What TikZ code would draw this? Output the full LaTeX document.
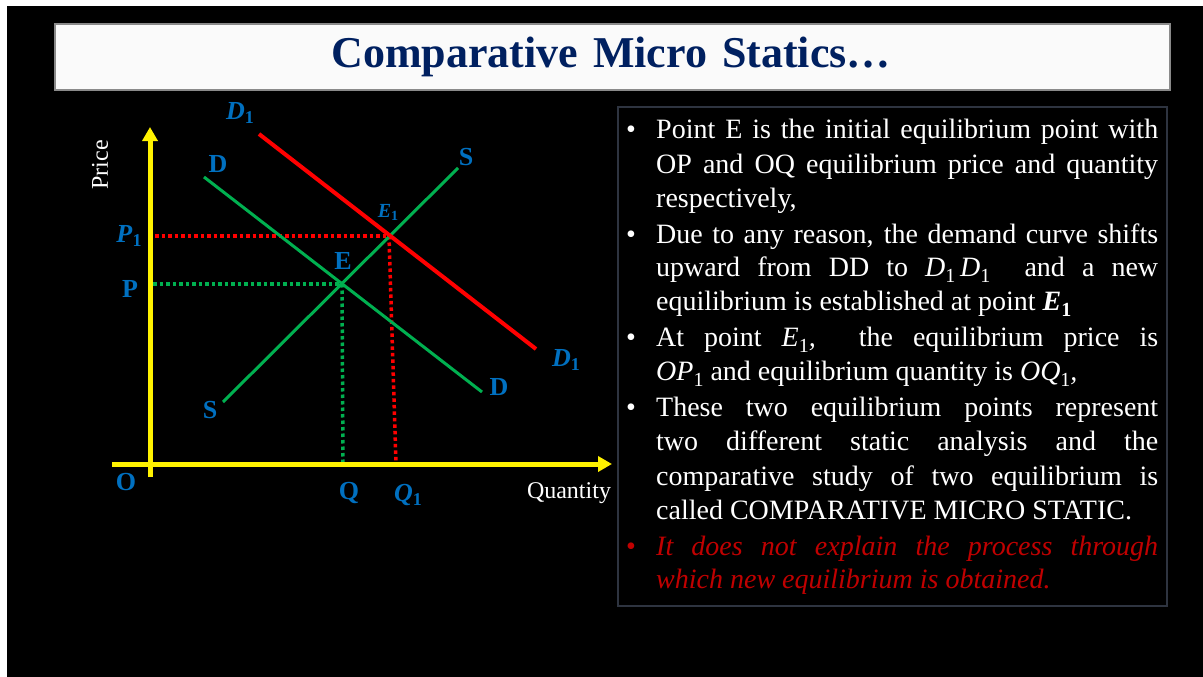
\documentclass[tikz,border=0pt]{standalone}
\usepackage{fontspec}
\setmainfont{Liberation Serif}
\usetikzlibrary{arrows.meta}
\definecolor{lblue}{HTML}{0070C0}
\definecolor{navy}{HTML}{002060}
\definecolor{pgreen}{HTML}{00B050}
\definecolor{dred}{HTML}{C00000}
\definecolor{boxgray}{HTML}{2E3440}
\definecolor{titlegray}{HTML}{8A8A8A}
\newcommand\mysub[3]{\raisebox{-#2}{\fontsize{#1}{#1}\selectfont #3}}
\newcommand\jline[1]{\makebox[502pt][s]{#1}}
\begin{document}
\begin{tikzpicture}[x=1pt,y=-1pt,
  lbl/.style={text=lblue,font=\fontsize{26}{26}\selectfont\bfseries,inner sep=0pt},
  axislbl/.style={text=white,font=\fontsize{24}{24}\selectfont,inner sep=0pt},
  bodyline/.style={text=white,font=\fontsize{28}{28}\selectfont,anchor=base west,inner sep=0pt},
  redline/.style={text=dred,font=\fontsize{28}{28}\selectfont\itshape,anchor=base west,inner sep=0pt},
  bul/.style={font=\fontsize{28}{28}\selectfont,anchor=base west,inner sep=0pt},
  axis/.style={yellow,line width=5pt,-{Triangle[length=14pt,width=15pt]}},
  curve/.style={pgreen,line width=3pt},
  shifted/.style={red,line width=4pt},
  gdot/.style={pgreen,line width=3.5pt,dash pattern=on 3.5pt off 3pt},
  rdot/.style={red,line width=3.5pt,dash pattern=on 3.5pt off 3pt}]
\useasboundingbox (0,0) rectangle (1203,677);
\fill[white] (0,0) rectangle (1203,677);
\fill[black] (7,6) rectangle (1203,677);
% title
\draw[titlegray,line width=1.2pt,fill={rgb,255:red,250;green,250;blue,250}] (55,24) rectangle (1170,90);
\node[text=navy,font=\fontsize{44}{44}\selectfont\bfseries,inner sep=0pt] (title) at (611,57) {Comparative\hspace{15pt}Micro\hspace{15pt}Statics…};
% text box
\draw[boxgray,line width=1.5pt] (618,107) rectangle (1167,606);
% coordinates of the graph
\coordinate (E) at (342,284);
\coordinate (E1) at (389,236);
\coordinate (Dtop) at (204,177);
\coordinate (Dbot) at (482,392);
\coordinate (Sbot) at (223,402);
\coordinate (Stop) at (458,168);
\coordinate (Rtop) at (259,134);
\coordinate (Rbot) at (536,349);
\coordinate (pP) at (153,284);
\coordinate (pP1) at (155,236);
\coordinate (qQ) at (343,464);
\coordinate (qQ1) at (396,464);
\coordinate (ybot) at (150,477);
\coordinate (ytop) at (150,127);
\coordinate (xl) at (112,464);
\coordinate (xr) at (612,464);
% dotted guides
\draw[gdot] (pP) -- (E);
\draw[gdot] (E) -- (qQ);
\draw[rdot] (pP1) -- (E1);
\draw[rdot] (E1) -- (qQ1);
% curves
\draw[curve] (Dtop) -- (Dbot);
\draw[curve] (Sbot) -- (Stop);
\draw[shifted] (Rtop) -- (Rbot);
% axes
\draw[axis] (ybot) -- (ytop);
\draw[axis] (xl) -- (xr);
% labels
\node[lbl] (lD1a) at (240,113) {\textit{D}\mysub{18pt}{4pt}{1}};
\node[lbl] (lDa) at (218,164) {D};
\node[lbl] (lSa) at (466,157) {S};
\node[lbl,font=\fontsize{20}{20}\selectfont\bfseries] (lE1) at (388,212) {\textit{E}\mysub{14pt}{3pt}{1}};
\node[lbl] (lE) at (343,261) {E};
\node[lbl] (lP1) at (129,236) {\textit{P}\mysub{18pt}{4pt}{1}};
\node[lbl] (lP) at (130,289) {P};
\node[lbl] (lD1b) at (566,360) {\textit{D}\mysub{18pt}{4pt}{1}};
\node[lbl] (lDb) at (499,387) {D};
\node[lbl] (lSb) at (210,410) {S};
\node[lbl] (lQ) at (349,493) {Q};
\node[lbl] (lQ1) at (408,495) {\textit{Q}\mysub{18pt}{4pt}{1}};
\node[lbl] (lO) at (126,482) {O};
\node[axislbl,rotate=90] (price) at (100,165) {Price};
\node[axislbl] (qty) at (569,493) {Quantity};
% bullets
\node[bul,text=white] (b1) at (626,139) {•};
\node[bul,text=white] (b2) at (626,243) {•};
\node[bul,text=white] (b3) at (626,346) {•};
\node[bul,text=white] (b4) at (626,416) {•};
\node[bul,text=dred] (b5) at (626,555) {•};
% body text
\node[bodyline] (t1) at (656,139) {\jline{Point E is the initial equilibrium point with}};
\node[bodyline] (t2) at (656,173) {\jline{OP and OQ equilibrium price and quantity}};
\node[bodyline] (t3) at (656,207) {respectively,};
\node[bodyline] (t4) at (656,243) {\jline{Due to any reason, the demand curve shifts}};
\node[bodyline] (t5) at (656,276) {\jline{upward from DD to \textit{D}\mysub{20pt}{6pt}{1}\,\textit{D}\mysub{20pt}{6pt}{1} \ and a new}};
\node[bodyline] (t6) at (656,310) {equilibrium is established at point \textbf{\textit{E}\mysub{20pt}{6pt}{1}}};
\node[bodyline] (t7) at (656,346) {\jline{At point \textit{E}\mysub{20pt}{6pt}{1}\textit{,} \ the equilibrium price is}};
\node[bodyline] (t8) at (656,380) {\textit{OP}\mysub{20pt}{6pt}{1} and equilibrium quantity is \textit{OQ}\mysub{20pt}{6pt}{1}\textit{,}};
\node[bodyline] (t9) at (656,416) {\jline{These two equilibrium points represent}};
\node[bodyline] (t10) at (656,450) {\jline{two different static analysis and the}};
\node[bodyline] (t11) at (656,485) {\jline{comparative study of two equilibrium is}};
\node[bodyline] (t12) at (656,519) {called COMPARATIVE MICRO STATIC.};
\node[redline] (t13) at (656,555) {\jline{It does not explain the process through}};
\node[redline] (t14) at (656,588) {which new equilibrium is obtained.};
\end{tikzpicture}
\end{document}
